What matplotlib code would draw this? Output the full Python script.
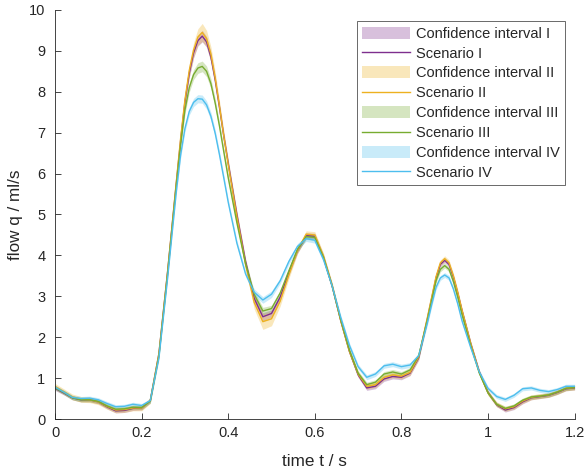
import matplotlib
matplotlib.use("Agg")
import matplotlib.pyplot as plt
import numpy as np
from matplotlib.patches import Patch
from matplotlib.lines import Line2D

plt.rcParams['font.family'] = ['Liberation Sans', 'DejaVu Sans']

# time samples (s)
t = [0.00, 0.02, 0.04, 0.06, 0.08, 0.10, 0.12, 0.14, 0.16, 0.18, 0.20, 0.22, 0.24, 0.26, 0.28,
     0.29, 0.30, 0.31, 0.32, 0.33, 0.34, 0.35, 0.36, 0.37, 0.38, 0.39,
     0.40, 0.42, 0.44, 0.46, 0.48, 0.50, 0.52, 0.54, 0.56, 0.58, 0.60, 0.62,
     0.64, 0.66, 0.68, 0.70, 0.72, 0.74, 0.76, 0.78, 0.80, 0.82, 0.84, 0.86,
     0.87, 0.88, 0.89, 0.90, 0.91, 0.92, 0.93,
     0.94, 0.96, 0.98, 1.00, 1.02, 1.04, 1.06, 1.08, 1.10, 1.12, 1.14, 1.16, 1.18, 1.20]

# flow (ml/s) per scenario
q_I = [0.75, 0.64, 0.52, 0.47, 0.47, 0.42, 0.30, 0.20, 0.21, 0.26, 0.27, 0.45, 1.60, 3.60, 5.75,
       6.80, 7.75, 8.45, 8.95, 9.25, 9.36, 9.22, 8.85, 8.28, 7.60, 6.90,
       6.25, 5.00, 3.85, 2.95, 2.50, 2.58, 2.98, 3.58, 4.12, 4.48, 4.47, 3.95,
       3.25, 2.40, 1.65, 1.08, 0.76, 0.80, 0.98, 1.04, 1.02, 1.12, 1.50, 2.45,
       2.95, 3.45, 3.78, 3.88, 3.78, 3.47, 3.08,
       2.65, 1.85, 1.15, 0.65, 0.35, 0.22, 0.28, 0.42, 0.52, 0.55, 0.58, 0.65, 0.74, 0.76]
q_II = [0.80, 0.67, 0.54, 0.48, 0.47, 0.42, 0.31, 0.22, 0.23, 0.27, 0.27, 0.45, 1.60, 3.60, 5.78,
        6.85, 7.80, 8.52, 9.02, 9.34, 9.45, 9.30, 8.92, 8.33, 7.63, 6.90,
        6.22, 4.95, 3.78, 2.85, 2.38, 2.45, 2.88, 3.52, 4.12, 4.52, 4.50, 3.98,
        3.27, 2.40, 1.65, 1.10, 0.80, 0.84, 1.02, 1.08, 1.05, 1.14, 1.52, 2.48,
        2.98, 3.48, 3.82, 3.92, 3.82, 3.50, 3.10,
        2.66, 1.85, 1.14, 0.64, 0.36, 0.25, 0.30, 0.44, 0.53, 0.56, 0.59, 0.66, 0.75, 0.77]
q_III = [0.76, 0.65, 0.52, 0.47, 0.47, 0.43, 0.32, 0.24, 0.25, 0.29, 0.28, 0.44, 1.55, 3.55, 5.70,
         6.70, 7.55, 8.10, 8.42, 8.58, 8.62, 8.50, 8.20, 7.72, 7.15, 6.52,
         5.90, 4.80, 3.80, 3.05, 2.64, 2.70, 3.08, 3.62, 4.15, 4.46, 4.44, 3.95,
         3.25, 2.42, 1.68, 1.12, 0.84, 0.90, 1.10, 1.15, 1.10, 1.20, 1.55, 2.42,
         2.90, 3.38, 3.66, 3.75, 3.66, 3.36, 2.98,
         2.55, 1.80, 1.12, 0.64, 0.36, 0.26, 0.32, 0.46, 0.54, 0.56, 0.59, 0.66, 0.75, 0.77]
q_IV = [0.78, 0.66, 0.53, 0.50, 0.51, 0.47, 0.38, 0.30, 0.31, 0.36, 0.33, 0.45, 1.50, 3.45, 5.55,
        6.45, 7.10, 7.52, 7.74, 7.83, 7.82, 7.68, 7.40, 6.98, 6.45, 5.88,
        5.30, 4.30, 3.55, 3.10, 2.91, 3.05, 3.38, 3.85, 4.22, 4.41, 4.37, 3.90,
        3.25, 2.48, 1.80, 1.28, 1.02, 1.10, 1.30, 1.34, 1.28, 1.32, 1.55, 2.35,
        2.80, 3.22, 3.45, 3.52, 3.45, 3.18, 2.82,
        2.40, 1.75, 1.15, 0.75, 0.55, 0.48, 0.58, 0.74, 0.76, 0.70, 0.67, 0.72, 0.80, 0.80]

# half width of confidence intervals
ci_I = [0.05, 0.05, 0.05, 0.05, 0.05, 0.05, 0.05, 0.05, 0.05, 0.05, 0.05, 0.05, 0.06, 0.07, 0.08,
        0.09, 0.10, 0.11, 0.12, 0.13, 0.14, 0.13, 0.12, 0.11, 0.10, 0.10,
        0.09, 0.08, 0.08, 0.09, 0.10, 0.09, 0.08, 0.07, 0.07, 0.07, 0.07, 0.07,
        0.06, 0.06, 0.06, 0.06, 0.06, 0.06, 0.06, 0.06, 0.06, 0.06, 0.06, 0.06,
        0.06, 0.06, 0.06, 0.06, 0.06, 0.06, 0.06,
        0.05, 0.05, 0.05, 0.05, 0.05, 0.05, 0.05, 0.05, 0.05, 0.05, 0.05, 0.05, 0.05, 0.05]
ci_II = [0.07, 0.07, 0.07, 0.07, 0.07, 0.07, 0.07, 0.07, 0.07, 0.07, 0.07, 0.07, 0.08, 0.09, 0.10,
         0.12, 0.14, 0.16, 0.18, 0.20, 0.22, 0.20, 0.18, 0.16, 0.14, 0.13,
         0.12, 0.12, 0.13, 0.16, 0.19, 0.17, 0.12, 0.09, 0.08, 0.08, 0.08, 0.08,
         0.07, 0.07, 0.07, 0.07, 0.07, 0.07, 0.07, 0.07, 0.07, 0.07, 0.07, 0.07,
         0.07, 0.07, 0.07, 0.07, 0.07, 0.07, 0.07,
         0.06, 0.06, 0.06, 0.06, 0.06, 0.06, 0.06, 0.06, 0.06, 0.06, 0.06, 0.06, 0.06, 0.06]
ci_III = [0.05, 0.05, 0.05, 0.05, 0.05, 0.05, 0.05, 0.05, 0.05, 0.05, 0.05, 0.05, 0.06, 0.07, 0.08,
          0.09, 0.10, 0.11, 0.12, 0.13, 0.13, 0.13, 0.12, 0.11, 0.10, 0.09,
          0.09, 0.08, 0.08, 0.08, 0.09, 0.08, 0.07, 0.07, 0.07, 0.07, 0.07, 0.07,
          0.06, 0.06, 0.06, 0.06, 0.06, 0.06, 0.06, 0.06, 0.06, 0.06, 0.06, 0.06,
          0.06, 0.06, 0.06, 0.06, 0.06, 0.06, 0.06,
          0.05, 0.05, 0.05, 0.05, 0.05, 0.05, 0.05, 0.05, 0.05, 0.05, 0.05, 0.05, 0.05, 0.05]
ci_IV = [0.05, 0.05, 0.05, 0.05, 0.05, 0.05, 0.05, 0.05, 0.05, 0.05, 0.05, 0.05, 0.06, 0.06, 0.07,
         0.08, 0.08, 0.09, 0.10, 0.10, 0.10, 0.10, 0.10, 0.09, 0.09, 0.08,
         0.08, 0.07, 0.07, 0.08, 0.08, 0.08, 0.07, 0.07, 0.07, 0.07, 0.07, 0.07,
         0.06, 0.06, 0.06, 0.06, 0.06, 0.06, 0.06, 0.06, 0.06, 0.06, 0.06, 0.06,
         0.06, 0.06, 0.06, 0.06, 0.06, 0.06, 0.06,
         0.05, 0.05, 0.05, 0.05, 0.05, 0.05, 0.05, 0.05, 0.05, 0.05, 0.05, 0.05, 0.05, 0.05]

names = ['I', 'II', 'III', 'IV']
flows = [q_I, q_II, q_III, q_IV]
cis = [ci_I, ci_II, ci_III, ci_IV]
colors = ['#7E2F8E', '#EDB120', '#77AC30', '#4DBEEE']

fig = plt.figure(figsize=(5.86, 4.74), dpi=100)
ax = fig.add_axes([0.0939, 0.116, 0.8866, 0.863])

tt = np.array(t)
for q, ci, c in zip(flows, cis, colors):
    q = np.array(q)
    ci = np.array(ci)
    ax.fill_between(tt, q - ci, q + ci, color=c, alpha=0.3, lw=0)
for q, c in zip(flows, colors):
    ax.plot(tt, q, color=c, lw=1.0)

ax.set_xlim(0, 1.2)
ax.set_ylim(0, 10)
ax.set_xticks([0, 0.2, 0.4, 0.6, 0.8, 1.0, 1.2])
ax.set_xticklabels(['0', '0.2', '0.4', '0.6', '0.8', '1', '1.2'])
ax.set_yticks(range(0, 11))
for s in ['top', 'right']:
    ax.spines[s].set_visible(False)
for s in ['left', 'bottom']:
    ax.spines[s].set_color('#262626')
    ax.spines[s].set_linewidth(0.6)
ax.tick_params(direction='in', length=4, width=0.6, colors='#262626', labelsize=10.5)
ax.tick_params(axis='y', pad=7)
ax.tick_params(axis='x', pad=5)
ax.set_xlabel('time t / s', fontsize=12.3, color='#262626', labelpad=10)
ax.set_ylabel('flow q / ml/s', fontsize=12.3, color='#262626', labelpad=4)

handles = []
labels = []
for n, c in zip(names, colors):
    handles.append(Patch(facecolor=c, alpha=0.3, edgecolor='none'))
    labels.append('Confidence interval ' + n)
    handles.append(Line2D([], [], color=c, lw=1.0))
    labels.append('Scenario ' + n)
leg = ax.legend(handles, labels, loc='upper right', bbox_to_anchor=(0.982, 0.972),
                borderaxespad=0, fontsize=10.5, frameon=True, fancybox=False,
                handlelength=3.3, handleheight=0.9, labelspacing=0.4,
                handletextpad=0.4, borderpad=0.35)
leg.get_frame().set_edgecolor('#262626')
leg.get_frame().set_linewidth(0.6)
for txt in leg.get_texts():
    txt.set_color('#262626')

fig.savefig('out.png', dpi=100)
